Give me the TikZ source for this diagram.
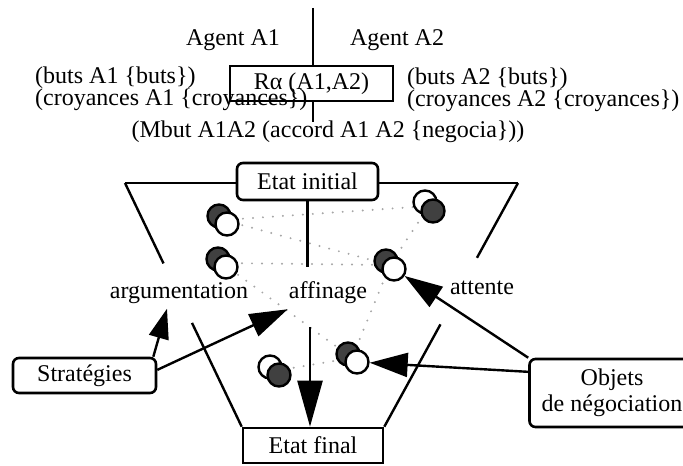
\documentclass[tikz,border=0pt]{standalone}
\usepackage{fontspec}
\setmainfont{Liberation Serif}
\usetikzlibrary{arrows.meta,calc,positioning}

\begin{document}
\begin{tikzpicture}[x=0.5pt,y=-0.5pt,
  font=\fontsize{12}{13}\selectfont,
  line width=1.2pt,
  txt/.style={inner sep=0pt},
  frame/.style={draw,line width=1.3pt,inner sep=0pt,align=center},
  rframe/.style={frame,rounded corners=3pt},
  darkdot/.style={circle,draw,line width=1.2pt,fill=black!75,minimum size=11.5pt,inner sep=0pt},
  whitedot/.style={circle,draw,line width=1.2pt,fill=white,minimum size=11.5pt,inner sep=0pt},
  link/.style={gray!70,line width=1.1pt,line cap=round,dash pattern=on 0pt off 5pt},
  bigtip/.style={-{Triangle[length=19pt,width=12pt]}}]
\useasboundingbox (0,0) rectangle (683,465);

% Agents and their relation
\node[txt] (ag1) at (233,40) {Agent A1};
\node[txt] (ag2) at (397,40) {Agent A2};
\node[frame,minimum width=81.5pt,minimum height=17.5pt] (ra) at (311.5,83.5) {Rα (A1,A2)};
\coordinate (top) at (313,8);
\coordinate (bot) at (313,122);
\draw (top) -- (top |- ra.north);
\draw (bot |- ra.south) -- (bot);

\node[txt,anchor=west] (b1) at (34,78) {(buts A1 \{buts\})};
\node[txt,anchor=west] (c1) at (34,100) {(croyances A1 \{croyances\})};
\node[txt,anchor=west] (b2) at (406,79) {(buts A2 \{buts\})};
\node[txt,anchor=west] (c2) at (406,101) {(croyances A2 \{croyances\})};
\node[txt] (mb) at (328,132) {(Mbut A1A2 (accord A1 A2 \{negocia\}))};

% States
\node[rframe,minimum width=70.5pt,minimum height=18.5pt] (ini) at (307.5,181.5) {Etat initial};
\node[frame,minimum width=70pt,minimum height=17.5pt] (fin) at (313,445.5) {Etat final};
\node[rframe,minimum width=71.5pt,minimum height=17.5pt] (strat) at (84.5,375.5) {Stratégies};
\node[rframe,minimum width=82.5pt,minimum height=34pt] (obj) at (612,393) {Objets\\de négociation};

% Funnel
\coordinate (tl) at (125,183);
\coordinate (tr) at (518,183);
\draw (tl) -- (ini.west |- tl);
\draw (ini.east |- tr) -- (tr);
\draw (tl) -- ($(tl)!0.33!(fin.north west)$);
\draw ($(tl)!0.574!(fin.north west)$) -- (fin.north west);
\draw (tr) -- ($(tr)!0.307!(fin.north east)$);
\draw ($(tr)!0.58!(fin.north east)$) -- (fin.north east);
\coordinate (imid) at (ini.south |- 0,267);
\draw (ini.south) -- (imid);

% Labels inside the funnel
\node[txt] (arg) at (179,293) {argumentation};
\node[txt] (aff) at (328,293) {affinage};
\node[txt] (att) at (482,288) {attente};

% Proposals (pairs of circles)
\coordinate (q1) at (223,220);
\coordinate (q2) at (222,263);
\coordinate (q3) at (429,206);
\coordinate (q4) at (390,265);
\coordinate (q5) at (274,371);
\coordinate (q6) at (352,358);
\draw[link] (q1) -- (q3);
\draw[link] (q1) -- (q4);
\draw[link] (q2) -- (q4);
\draw[link] (q3) -- (q4);
\draw[link] (q4) -- (q6);
\draw[link] (q2) -- (q6);
\draw[link] (q5) -- (q6);

\node[darkdot] (p1b) at (219,216) {};
\node[whitedot] (p1w) at (227,224) {};
\node[darkdot] (p2b) at (218,259) {};
\node[whitedot] (p2w) at (226,267) {};
\node[whitedot] (p3w) at (425,202) {};
\node[darkdot] (p3b) at (433,211) {};
\node[darkdot] (p4b) at (386,261) {};
\node[whitedot] (p4w) at (394,269) {};
\node[whitedot] (p5w) at (270,367) {};
\node[darkdot] (p5b) at (279,375) {};
\node[darkdot] (p6b) at (348,354) {};
\node[whitedot] (p6w) at (357,362) {};

% Arrows
\draw[-{Triangle[length=15pt,width=10pt]}] ($(strat.north east)+(-4,0)$) -- ([xshift=-6pt,yshift=-2pt]arg.south);
\draw[bigtip] ($(strat.north east)!0.35!(strat.south east)$) -- ([yshift=-2pt]aff.south west);
\draw[bigtip] (obj.north west) -- (p4w);
\draw[bigtip] ($(obj.north west)!0.2!(obj.south west)$) -- (p6w);
\coordinate (fstart) at (310,327);
\draw[-{Triangle[length=23pt,width=12.5pt]}] (fstart) -- (fstart |- fin.north);
\end{tikzpicture}
\end{document}
